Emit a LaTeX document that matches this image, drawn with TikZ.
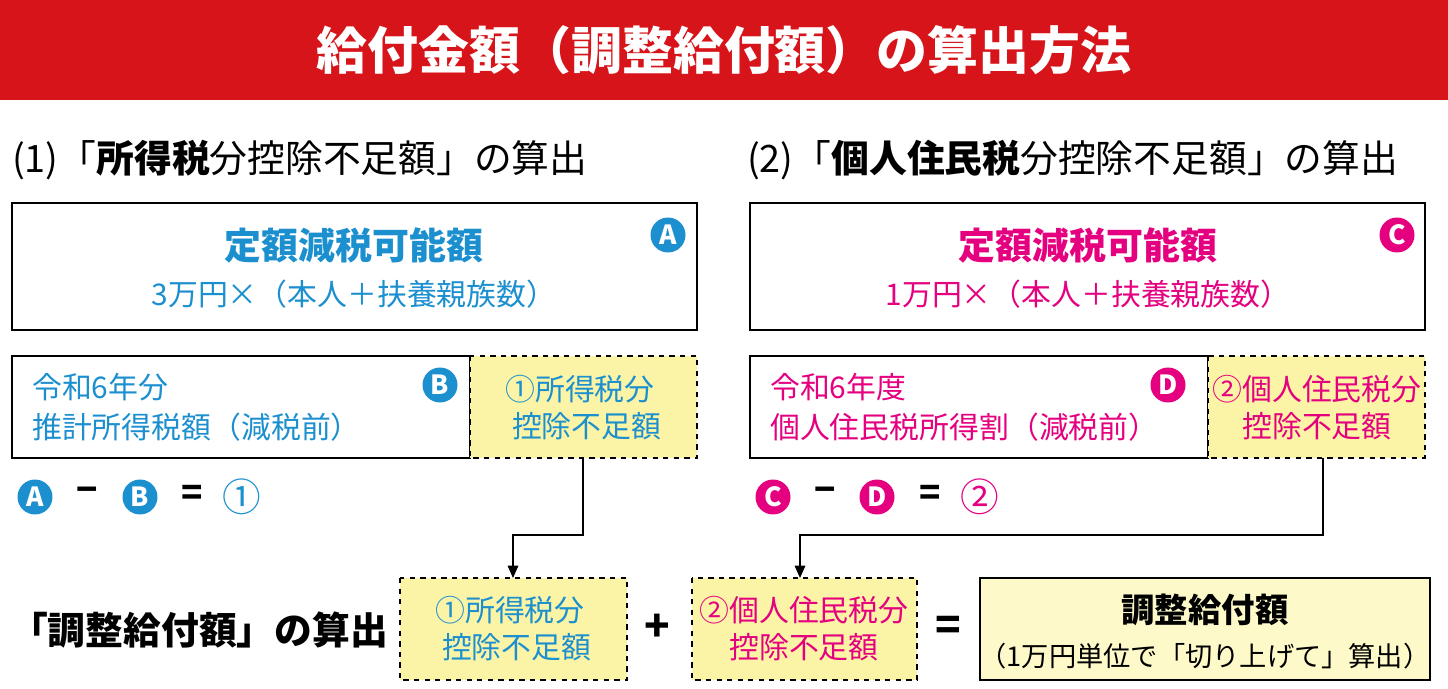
\documentclass[tikz,border=0pt]{standalone}
\usepackage{fontspec}
\setmainfont{Noto Sans CJK JP}
\usetikzlibrary{arrows.meta,positioning}
\definecolor{bannerred}{HTML}{D7141A}
\definecolor{bluec}{HTML}{1C8FCF}
\definecolor{magc}{HTML}{E4007F}
\definecolor{paleyel}{HTML}{FBF4A6}
\definecolor{boxyel}{HTML}{FDF9C8}

\begin{document}
\begin{tikzpicture}[x=0.02cm, y=-0.02cm,
  box/.style={draw, line width=0.8pt, inner sep=0pt},
  yelbox/.style={draw, dashed, line width=0.8pt, fill=paleyel, inner sep=0pt},
  badge/.style={circle, fill=#1, text=white, inner sep=0pt, minimum size=0.7cm, font=\fontsize{15}{15}\selectfont\bfseries},
  flow/.style={-{Triangle[length=7pt,width=6pt]}, line width=0.8pt}]
\useasboundingbox (0,0) rectangle (1448,689);
% Banner
\fill[bannerred] (0,0) rectangle (1448,100);
\node[text=white, font=\fontsize{29}{29}\selectfont\bfseries] (title) at (724,50) {給付金額（調整給付額）の算出方法};

% Headings
\node[anchor=west, font=\fontsize{21.5}{21.5}\selectfont] (h1) at (6,160) {(1)「\textbf{所得税}分控除不足額」の算出};
\node[anchor=west, font=\fontsize{21.5}{21.5}\selectfont] (h2) at (741,160) {(2)「\textbf{個人住民税}分控除不足額」の算出};

% Box A / C
\draw[box] (12,203) rectangle (697,330);
\node[text=bluec, font=\fontsize{21}{21}\selectfont\bfseries] (a1) at (354,245) {定額減税可能額};
\node[text=bluec, font=\fontsize{17}{17}\selectfont] (a2) at (354,294) {3万円×（本人＋扶養親族数）};
\node[badge=bluec] (ba) at (668,235) {A};
\draw[box] (750,203) rectangle (1425,330);
\node[text=magc, font=\fontsize{21}{21}\selectfont\bfseries] (c1) at (1088,245) {定額減税可能額};
\node[text=magc, font=\fontsize{17}{17}\selectfont] (c2) at (1088,294) {1万円×（本人＋扶養親族数）};
\node[badge=magc] (bc) at (1397,235) {C};

% Row B / D
\draw[box] (12,356) rectangle (470,458);
\draw[yelbox] (470,356) rectangle (697,458);
\node[anchor=west, text=bluec, font=\fontsize{17}{17}\selectfont] (b1) at (26,387) {令和6年分};
\node[anchor=west, text=bluec, font=\fontsize{17}{17}\selectfont] (b2) at (26,427) {推計所得税額（減税前）};
\node[badge=bluec] (bb) at (440,385) {B};
\node[text=bluec, font=\fontsize{17}{21}\selectfont, align=center] (y1) at (580,408) {①所得税分\\\ \ 控除不足額};
\draw[box] (750,356) rectangle (1208,458);
\draw[yelbox] (1208,356) rectangle (1425,458);
\node[anchor=west, text=magc, font=\fontsize{17}{17}\selectfont] (d1) at (764,387) {令和6年度};
\node[anchor=west, text=magc, font=\fontsize{17}{17}\selectfont] (d2) at (764,427) {個人住民税所得割（減税前）};
\node[badge=magc] (bd) at (1168,385) {D};
\node[text=magc, font=\fontsize{17}{21}\selectfont, align=center] (y2) at (1317,408) {②個人住民税分\\控除不足額};

% Formulas
\node[badge=bluec] (fa) at (35,497) {A};
\node[font=\fontsize{20}{20}\selectfont\bfseries] (fm1) at (87,495) {−};
\node[badge=bluec] (fb) at (140,497) {B};
\node[font=\fontsize{20}{20}\selectfont\bfseries] (fe1) at (192,495) {=};
\node[text=bluec, font=\fontsize{22}{22}\selectfont] (f1) at (242,497) {①};
\node[badge=magc] (fc) at (773,497) {C};
\node[font=\fontsize{20}{20}\selectfont\bfseries] (fm2) at (825,495) {−};
\node[badge=magc] (fd) at (877,497) {D};
\node[font=\fontsize{20}{20}\selectfont\bfseries] (fe2) at (930,495) {=};
\node[text=magc, font=\fontsize{22}{22}\selectfont] (f2) at (980,497) {②};

% Bottom row
\node[anchor=west, font=\fontsize{21.5}{21.5}\selectfont\bfseries] (h3) at (4,630) {「調整給付額」の算出};
\draw[yelbox] (400,578) rectangle (627,680);
\node[text=bluec, font=\fontsize{17}{21}\selectfont, align=center] (r1) at (510,629) {①所得税分\\\ \ 控除不足額};
\node[font=\fontsize{24}{24}\selectfont\bfseries] (plus) at (657,628) {+};
\draw[yelbox] (692,578) rectangle (917,680);
\node[text=magc, font=\fontsize{17}{21}\selectfont, align=center] (r2) at (804,629) {②個人住民税分\\控除不足額};
\node[font=\fontsize{24}{24}\selectfont\bfseries] (eq) at (948,628) {=};
\draw[box, line width=1.6pt, fill=boxyel] (980,578) rectangle (1430,680);
\node[font=\fontsize{19}{19}\selectfont\bfseries] (g1) at (1205,610) {調整給付額};
\node[font=\fontsize{15.5}{15.5}\selectfont] (g2) at (1205,656) {（1万円単位で「切り上げて」算出）};

% Connectors
\coordinate (p1) at (583,458);
\coordinate (p2) at (513,578);
\coordinate (q1) at (1323,458);
\coordinate (q2) at (800,578);
\draw[flow] (p1) |- (513,535) -- (p2);
\draw[flow] (q1) |- (800,535) -- (q2);
\end{tikzpicture}
\end{document}
